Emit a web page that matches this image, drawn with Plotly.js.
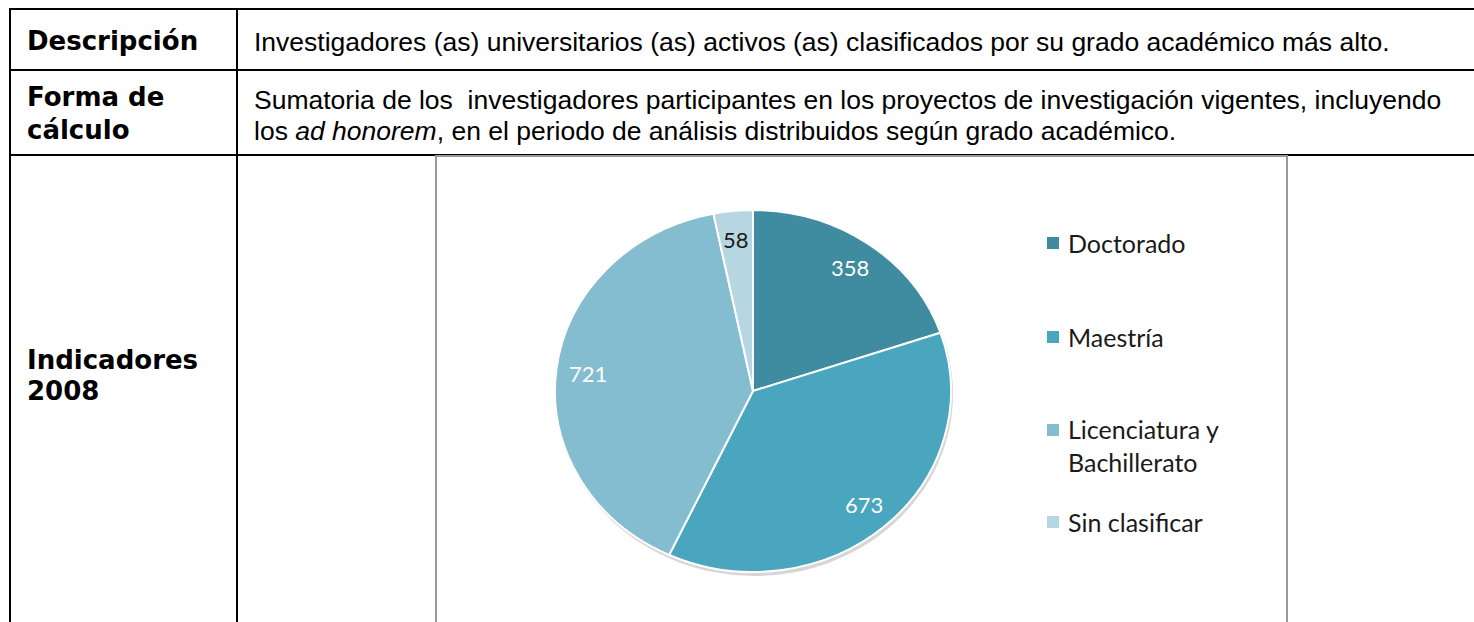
<!DOCTYPE html>
<html>
<head>
<meta charset="utf-8">
<script src="https://cdn.plot.ly/plotly-3.0.1.min.js"></script>
<style>
  html, body { margin: 0; padding: 0; background: #ffffff; overflow: hidden; }
  #chart { width: 1474px; height: 622px; }
</style>
</head>
<body>
<div id="chart"></div>
<script>
// ---------------- data ----------------
const categories   = ['Doctorado', 'Maestría', 'Licenciatura y Bachillerato', 'Sin clasificar'];
const legendLabels = ['Doctorado', 'Maestría', 'Licenciatura y<br>Bachillerato', 'Sin clasificar'];
const values       = [358, 673, 721, 58];
const sliceColors  = ['#3f8ba0', '#4aa5be', '#84bcd0', '#b6d6e2'];
const labelColors  = ['#ffffff', '#ffffff', '#ffffff', '#1a1a1a'];

const rowLabels = [
  ['Descripción'],
  ['Forma de', 'cálculo'],
  ['Indicadores', '2008']
];
const rowTexts = [
  ['Investigadores (as) universitarios (as) activos (as) clasificados por su grado académico más alto.'],
  ['Sumatoria de los &nbsp;investigadores participantes en los proyectos de investigación vigentes, incluyendo',
   'los <i>ad honorem</i>, en el periodo de análisis distribuidos según grado académico.'],
  []
];

// ---------------- layout helpers ----------------
const W = 1474, H = 622;
const X = p => p / W;
const Y = p => 1 - p / H;

// table geometry (px)
const tableLeft = 10, tableTop = 9, colDiv = 237;
const rowLines = [70, 155];
const labelX = 25, textX = 252;
const rowLabelY = [[41], [97, 130], [360, 391]];
const rowTextY  = [[42], [100, 131], []];

// chart box & pie geometry (px)
const box = {x0: 436, x1: 1287, y0: 156, y1: 700};
const CX = 753, CY = 391, RY = 181, RX = 198;
const LABEL_R = 0.84;

// legend geometry (px)
const legendSqX = 1047, legendSq = 12, legendTextX = 1066;
const legendY = [243, 337, 445, 522];
const legendLineGap = 15;

const shapes = [];
const annotations = [];
const black = '#000000';

// table lines
shapes.push({type: 'line', xref: 'paper', yref: 'paper', x0: X(tableLeft - 1), x1: X(W + 5), y0: Y(tableTop), y1: Y(tableTop), line: {color: black, width: 2}, layer: 'below'});
rowLines.forEach(yy => shapes.push({type: 'line', xref: 'paper', yref: 'paper', x0: X(tableLeft), x1: X(W + 5), y0: Y(yy), y1: Y(yy), line: {color: black, width: 2}, layer: 'below'}));
shapes.push({type: 'line', xref: 'paper', yref: 'paper', x0: X(tableLeft), x1: X(tableLeft), y0: Y(tableTop), y1: Y(H + 5), line: {color: black, width: 2}, layer: 'below'});
shapes.push({type: 'line', xref: 'paper', yref: 'paper', x0: X(colDiv), x1: X(colDiv), y0: Y(tableTop), y1: Y(H + 5), line: {color: black, width: 2}, layer: 'below'});

// chart box
shapes.push({type: 'rect', xref: 'paper', yref: 'paper', x0: X(box.x0), x1: X(box.x1), y0: Y(box.y0), y1: Y(box.y1), line: {color: '#999999', width: 2}, fillcolor: '#ffffff', layer: 'below'});

// soft shadow under the pie
shapes.push({type: 'circle', xref: 'paper', yref: 'paper', x0: X(CX - RX + 1), x1: X(CX + RX + 2), y0: Y(CY + RY + 4), y1: Y(CY - RY + 2), line: {width: 0}, fillcolor: 'rgba(0,0,0,0.16)', layer: 'below'});

// table text
rowLabels.forEach((lines, r) => lines.forEach((t, k) => annotations.push({
  xref: 'paper', yref: 'paper', x: X(labelX), y: Y(rowLabelY[r][k]), xanchor: 'left', yanchor: 'middle',
  text: t, showarrow: false, font: {family: 'DejaVu Sans', size: 26, weight: 'bold', color: black}
})));
rowTexts.forEach((lines, r) => lines.forEach((t, k) => annotations.push({
  xref: 'paper', yref: 'paper', x: X(textX), y: Y(rowTextY[r][k]), xanchor: 'left', yanchor: 'middle',
  text: t, showarrow: false, font: {family: 'Liberation Sans, Arial', size: 26.5, color: black}
})));

// pie slice labels (placed at slice mid angle)
const total = values.reduce((a, b) => a + b, 0);
let cum = 0;
values.forEach((v, i) => {
  const mid = (cum + v / 2) / total * 2 * Math.PI;
  cum += v;
  annotations.push({
    xref: 'paper', yref: 'paper',
    x: X(CX + LABEL_R * RX * Math.sin(mid)), y: Y(CY - LABEL_R * RY * Math.cos(mid)),
    xanchor: 'center', yanchor: 'middle', showarrow: false,
    text: String(v), font: {family: 'Lato', size: 22, color: labelColors[i]}
  });
});

// legend
legendLabels.forEach((t, i) => {
  const nLines = t.split('<br>').length;
  const firstY = legendY[i] - (nLines - 1) * legendLineGap;
  shapes.push({type: 'rect', xref: 'paper', yref: 'paper',
    x0: X(legendSqX), x1: X(legendSqX + legendSq), y0: Y(firstY - legendSq / 2), y1: Y(firstY + legendSq / 2),
    line: {width: 0}, fillcolor: sliceColors[i], layer: 'above'});
  annotations.push({
    xref: 'paper', yref: 'paper', x: X(legendTextX), y: Y(legendY[i]), xanchor: 'left', yanchor: 'middle',
    align: 'left', showarrow: false, text: t, font: {family: 'Lato', size: 25, color: '#1a1a1a'}
  });
});

const data = [{
  type: 'pie',
  labels: categories,
  values: values,
  sort: false,
  direction: 'clockwise',
  rotation: 0,
  textinfo: 'none',
  hoverinfo: 'label+value',
  showlegend: false,
  marker: {colors: sliceColors, line: {color: '#ffffff', width: 2}},
  domain: {x: [X(CX - RY), X(CX + RY)], y: [Y(CY + RY), Y(CY - RY)]}
}];

const layout = {
  width: W, height: H,
  margin: {l: 0, r: 0, t: 0, b: 0, pad: 0},
  paper_bgcolor: '#ffffff',
  plot_bgcolor: '#ffffff',
  showlegend: false,
  shapes: shapes,
  annotations: annotations
};

Plotly.newPlot('chart', data, layout, {displayModeBar: false, staticPlot: true}).then(gd => {
  // stretch pie horizontally into the ellipse of the original
  const sx = RX / RY;
  gd.querySelectorAll('.pielayer path.surface').forEach(p => {
    p.setAttribute('transform', 'translate(' + CX + ',0) scale(' + sx + ',1) translate(' + (-CX) + ',0)');
    p.style.vectorEffect = 'non-scaling-stroke';
  });
});
</script>
</body>
</html>
